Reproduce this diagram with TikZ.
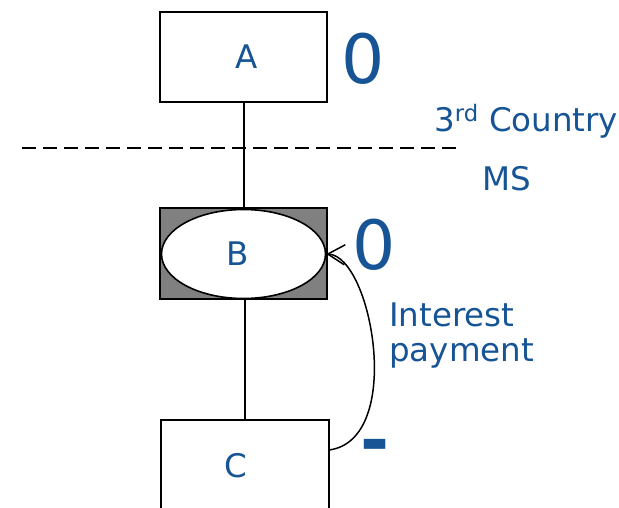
\documentclass[tikz,border=0pt]{standalone}
\usepackage{fontspec}
\setmainfont{DejaVu Sans}
\usetikzlibrary{shapes.geometric,arrows.meta}
\definecolor{txtblue}{RGB}{22,84,150}
\definecolor{boxgray}{RGB}{128,128,128}
\tikzset{
  entity/.style={draw=black,line width=1.6pt,fill=white,minimum width=167pt,minimum height=90pt,inner sep=0pt},
  lbl/.style={text=txtblue,font=\fontsize{32.5}{38}\selectfont,inner sep=0pt},
  big/.style={text=txtblue,font=\fontsize{68}{70}\selectfont,inner sep=0pt},
  link/.style={draw=black,line width=1.5pt}
}
\begin{document}
\begin{tikzpicture}[x=1pt,y=-1pt]
\useasboundingbox (0,0) rectangle (619,507);
% boxes
\node[entity] (A) at (243.5,57) {};
\node[entity,fill=boxgray,minimum height=91pt] (Brect) at (243.5,253.5) {};
\node[ellipse,draw=black,line width=1.6pt,fill=white,minimum width=164pt,minimum height=89pt,inner sep=0pt] (B) at (243.5,254) {};
\node[entity,minimum width=168pt] (C) at (245,465) {};
% labels in boxes
\node[lbl] (Alab) at (247,57) {A};
\node[lbl] (Blab) at (238,254) {B};
\node[lbl] (Clab) at (236,466) {C};
% connectors
\draw[link] ([xshift=0.5pt]A.south) -- ([xshift=0.5pt]Brect.north);
\draw[link] ([xshift=1.5pt]Brect.south) -- (C.north);
% dashed border
\coordinate (d1) at (22,148);
\coordinate (d2) at (460,148);
\draw[line width=1.5pt,dash pattern=on 14pt off 7pt] (d1) -- (d2);
% amounts
\node[big] (zA) at (363,59) {0};
\node[big] (zB) at (374,245) {0};
\node[big,font=\fontsize{70}{72}\selectfont\bfseries] (mC) at (375,452) {-};
% side labels
\node[lbl,anchor=base west] (tc) at (434,131) {3\textsuperscript{rd} Country};
\node[lbl,anchor=base west] (ms) at (482,190) {MS};
\node[lbl,anchor=base west] (ip1) at (389,326) {Interest};
\node[lbl,anchor=base west] (ip2) at (389,361) {payment};
% interest payment arrow
\coordinate (cs) at (329,450);
\draw[link,-{Straight Barb[length=17pt,width=20pt]}] (cs) .. controls (405,440) and (372,256) .. (B.east);
\end{tikzpicture}
\end{document}
